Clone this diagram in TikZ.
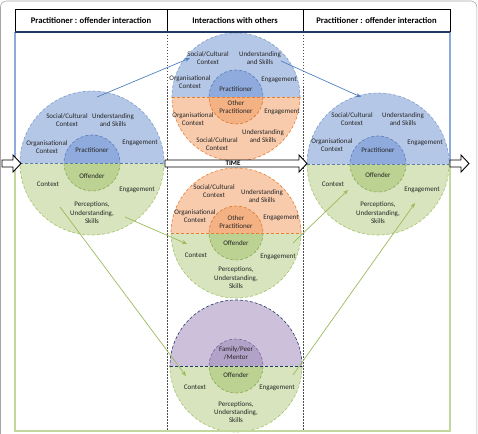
\documentclass[tikz,border=0pt]{standalone}
\usepackage{fontspec}
\setmainfont{Carlito}
\usetikzlibrary{arrows.meta,calc}
\definecolor{blueA}{HTML}{B4C7E7}
\definecolor{blueB}{HTML}{8FAADC}
\definecolor{blueD}{HTML}{7F9CCF}
\definecolor{blueE}{HTML}{5B7DB5}
\definecolor{greenA}{HTML}{D7E4BD}
\definecolor{greenB}{HTML}{BBD292}
\definecolor{greenD}{HTML}{A5C266}
\definecolor{greenE}{HTML}{8AAA52}
\definecolor{orangeA}{HTML}{F8CBAD}
\definecolor{orangeB}{HTML}{F4B183}
\definecolor{orangeD}{HTML}{ED7D31}
\definecolor{orangeE}{HTML}{D9772F}
\definecolor{purpleA}{HTML}{CCC0DA}
\definecolor{purpleB}{HTML}{B3A2C7}
\definecolor{purpleD}{HTML}{1F3864}
\definecolor{purpleE}{HTML}{8064A2}
\definecolor{navy}{HTML}{1F3864}
\definecolor{txt}{HTML}{262626}
\definecolor{arrblue}{HTML}{4F81BD}
\definecolor{arrgreen}{HTML}{9BBB59}
\definecolor{frblue}{HTML}{8EAADB}
\definecolor{frgreen}{HTML}{C3D69B}
\tikzset{
  cdash/.style={line width=0.6pt, dash pattern=on 3pt off 2pt},
  lbl/.style={font=\fontsize{7}{8.4}\selectfont, text=txt, align=center, inner sep=0pt},
  hdr/.style={font=\fontsize{8.6}{10}\selectfont\bfseries, text=black, inner sep=0pt},
  conn/.style={line width=0.7pt, -{Stealth[length=5pt,width=4pt]}},
  blockarrow/.style={draw=black, line width=0.9pt, fill=white, line join=miter}
}
% #1 cx, #2 cy, #3 R, #4 r, #5 top scheme, #6 bottom scheme, #7 midline colour
\newcommand\dcirc[7]{%
  \begin{scope}
    \clip (#1-#3-3,#2-#3-3) rectangle (#1+#3+3,#2);
    \fill[#5A] (#1,#2) circle[radius=#3];
    \fill[#5B] (#1,#2) circle[radius=#4];
    \draw[cdash,#5D] (#1,#2) circle[radius=#3];
    \draw[cdash,#5E] (#1,#2) circle[radius=#4];
  \end{scope}
  \begin{scope}
    \clip (#1-#3-3,#2) rectangle (#1+#3+3,#2+#3+3);
    \fill[#6A] (#1,#2) circle[radius=#3];
    \fill[#6B] (#1,#2) circle[radius=#4];
    \draw[cdash,#6D] (#1,#2) circle[radius=#3];
    \draw[cdash,#6E] (#1,#2) circle[radius=#4];
  \end{scope}
  \draw[cdash,#7] (#1-#3,#2) -- (#1+#3,#2);
}
\begin{document}
\begin{tikzpicture}[x=1pt,y=-1pt]
\useasboundingbox (0,0) rectangle (478,433);
% outer frame
\draw[gray!70, line width=0.6pt, rounded corners=6pt] (0.5,445) -- (0.5,1) -- (476.8,1) -- (476.8,445);

% circles
\dcirc{92}{163}{72}{28}{blue}{green}{blueE}
\dcirc{378}{164}{71}{28}{blue}{green}{blueE}
\dcirc{236}{97}{64}{27}{blue}{orange}{orangeD}
\dcirc{236}{233}{65}{27}{orange}{green}{orangeD}
\dcirc{236}{366}{66}{27}{purple}{green}{navy}

% column separators
\draw[gray!60!black, line width=0.6pt, dash pattern=on 1.5pt off 1.5pt] (167,32) -- (167,431);
\draw[gray!60!black, line width=0.6pt, dash pattern=on 1.5pt off 1.5pt] (303,32) -- (303,431);

% frame
\draw[frblue, line width=1.3pt] (15,163) -- (15,32);
\draw[frblue, line width=1.3pt] (450,163) -- (450,32);
\draw[frgreen, line width=1.3pt] (15,163) -- (15,431) -- (450,431) -- (450,163);
\draw[black, line width=0.5pt] (15,32) -- (15,9) -- (450,9) -- (450,32);
\draw[black, line width=0.5pt] (167,9) -- (167,32) (303,9) -- (303,32);
\draw[navy, line width=1.2pt] (15,32) -- (450,32);

% header
\node[hdr] (h1) at (91,21) {Practitioner : offender interaction};
\node[hdr] (h2) at (235,21) {Interactions with others};
\node[hdr] (h3) at (376.5,21) {Practitioner : offender interaction};

% left circle labels
\node[lbl] (l1) at (67,120) {Social/Cultural\\Context};
\node[lbl] (l2) at (113,120) {Understanding\\and Skills};
\node[lbl] (l3) at (47,147) {Organisational\\Context};
\node[lbl] (l4) at (92,150) {Practitioner};
\node[lbl] (l5) at (140,143) {Engagement};
\node[lbl] (l6) at (92,176) {Offender};
\node[lbl] (l7) at (48,184) {Context};
\node[lbl] (l8) at (137,190) {Engagement};
\node[lbl] (l9) at (92,213) {Perceptions,\\Understanding,\\Skills};

% right circle labels
\node[lbl] (r1) at (352,119) {Social/Cultural\\Context};
\node[lbl] (r2) at (403,119) {Understanding\\and Skills};
\node[lbl] (r3) at (332,145) {Organisational\\Context};
\node[lbl] (r4) at (378,150) {Practitioner};
\node[lbl] (r5) at (425,143) {Engagement};
\node[lbl] (r6) at (378,175) {Offender};
\node[lbl] (r7) at (333,184) {Context};
\node[lbl] (r8) at (422,190) {Engagement};
\node[lbl] (r9) at (378,213) {Perceptions,\\Understanding,\\Skills};

% middle top
\node[lbl] (a1) at (208,58) {Social/Cultural\\Context};
\node[lbl] (a2) at (260,58) {Understanding\\and Skills};
\node[lbl] (a3) at (190,82) {Organisational\\Context};
\node[lbl] (a4) at (236,89) {Practitioner};
\node[lbl] (a5) at (279,80) {Engagement};
\node[lbl] (a6) at (236,107) {Other\\Practitioner};
\node[lbl] (a7) at (282,112) {Engagement};
\node[lbl] (a8) at (193,119) {Organisational\\Context};
\node[lbl] (a9) at (263,136) {Understanding\\and Skills};
\node[lbl] (a10) at (217,144) {Social/Cultural\\Context};

% middle 2
\node[lbl] (b1) at (214,191) {Social/Cultural\\Context};
\node[lbl] (b2) at (262,196) {Understanding\\and Skills};
\node[lbl] (b3) at (195,216) {Organisational\\Context};
\node[lbl] (b4) at (236,222) {Other\\Practitioner};
\node[lbl] (b5) at (281,218) {Engagement};
\node[lbl] (b6) at (236,243) {Offender};
\node[lbl] (b7) at (196,255) {Context};
\node[lbl] (b8) at (278,257) {Engagement};
\node[lbl] (b9) at (236,278) {Perceptions,\\Understanding,\\Skills};

% middle 3
\node[lbl] (c1) at (236,353) {Family/Peer\\/Mentor};
\node[lbl] (c2) at (236,375) {Offender};
\node[lbl] (c3) at (195,387) {Context};
\node[lbl] (c4) at (277,388) {Engagement};
\node[lbl] (c5) at (236,412) {Perceptions,\\Understanding,\\Skills};

% block arrows
\draw[blockarrow] (2,160) -- (13,160) -- (13,155) -- (21,163.5) -- (13,172) -- (13,167) -- (2,167) -- cycle;
\draw[blockarrow] (450,160) -- (461,160) -- (461,155) -- (469,163.5) -- (461,172) -- (461,167) -- (450,167) -- cycle;
\draw[blockarrow] (165,160) -- (299,160) -- (299,155) -- (307,163.5) -- (299,172) -- (299,167) -- (165,167) -- cycle;
\node[font=\fontsize{7}{8}\selectfont\bfseries, inner sep=0pt] (time) at (233,163.7) {TIME};

% connectors
\coordinate (p1s) at (97,97);   \coordinate (p1e) at (190,58);
\coordinate (p2s) at (281,61);  \coordinate (p2e) at (361,97);
\coordinate (g1s) at (125,217); \coordinate (g1e) at (187,244);
\coordinate (g2s) at (60,207);  \coordinate (g2e) at (186,376);
\coordinate (g3s) at (293,243); \coordinate (g3e) at (348,190);
\coordinate (g4s) at (293,375); \coordinate (g4e) at (415,203);
\draw[conn, arrblue] (p1s) -- (p1e);
\draw[conn, arrblue] (p2s) -- (p2e);
\draw[conn, arrgreen] (g1s) -- (g1e);
\draw[conn, arrgreen] (g2s) -- (g2e);
\draw[conn, arrgreen] (g3s) -- (g3e);
\draw[conn, arrgreen] (g4s) -- (g4e);
\end{tikzpicture}
\end{document}
